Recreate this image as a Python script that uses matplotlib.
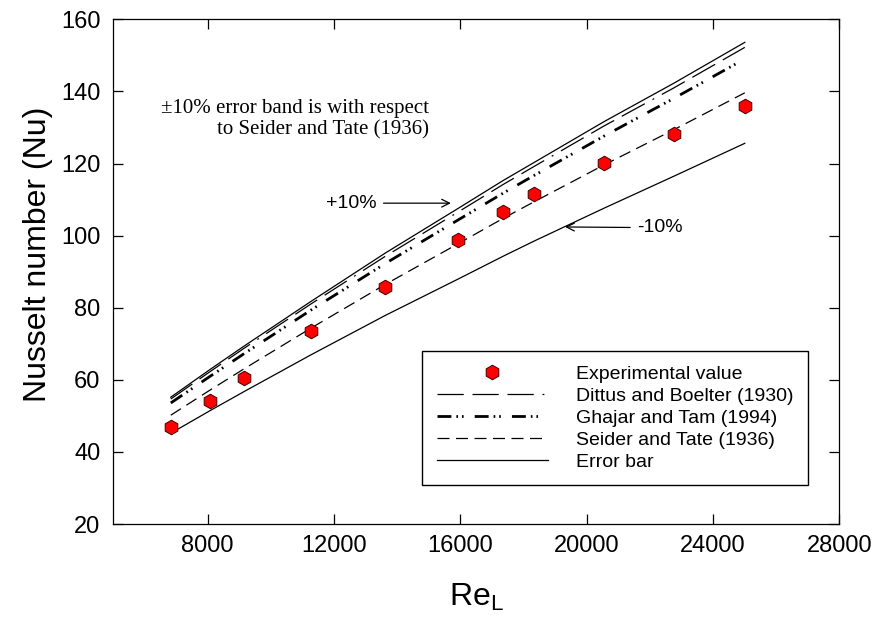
import numpy as np
import matplotlib
matplotlib.use("Agg")
import matplotlib.pyplot as plt

plt.rcParams['font.family'] = ['Liberation Sans', 'DejaVu Sans']
plt.rcParams['mathtext.default'] = 'regular'

# Reynolds numbers of the test runs
re_l = [6830, 8060, 9140, 11260, 13630, 15940, 17360, 18340, 20550, 22770, 25010]

# measured Nusselt numbers
nu_exp = [46.8, 54.2, 60.6, 73.5, 85.8, 98.8, 106.5, 111.6, 120.1, 128.1, 135.9]

# correlations evaluated at the same Re
nu_dittus = [54.7, 62.2, 68.7, 81.0, 94.3, 106.6, 114.2, 119.2, 130.4, 141.0, 152.2]
nu_ghajar = [53.6, 60.9, 67.2, 79.3, 92.3, 104.4, 111.8, 116.7, 127.6, 138.1, 149.0]
nu_seider = [50.2, 57.1, 63.0, 74.3, 86.5, 97.8, 104.8, 109.4, 119.6, 129.4, 139.6]

# +/-10% band around Seider and Tate
nu_plus10 = [55.2, 62.8, 69.3, 81.7, 95.2, 107.6, 115.3, 120.3, 131.6, 142.3, 153.6]
nu_minus10 = [45.2, 51.4, 56.7, 66.9, 77.9, 88.0, 94.3, 98.5, 107.6, 116.5, 125.6]

fig = plt.figure(figsize=(8.76, 6.21), dpi=100)
ax = fig.add_axes([0.129, 0.156, 0.829, 0.813])

ax.plot(re_l, nu_exp, linestyle='none', marker='h', markersize=10.5,
        markerfacecolor='#ff0000', markeredgecolor='#400000', markeredgewidth=0.7,
        zorder=5, label='Experimental value')
ax.plot(re_l, nu_dittus, color='black', lw=0.9,
        linestyle=(0, (21, 7, 21, 7, 21, 7, 1.5, 7)), label='Dittus and Boelter (1930)')
ax.plot(re_l, nu_ghajar, color='black', lw=2.0,
        linestyle=(0, (5, 1.8, 0.6, 1.4, 0.6, 4)), label='Ghajar and Tam (1994)')
ax.plot(re_l, nu_seider, color='black', lw=0.9,
        linestyle=(0, (9.6, 5.2)), label='Seider and Tate (1936)')
ax.plot(re_l, nu_plus10, color='black', lw=0.9, label='Error bar')
ax.plot(re_l, nu_minus10, color='black', lw=0.9)

ax.set_xlim(5000, 28000)
ax.set_ylim(20, 160)
ax.set_xticks(np.arange(8000, 28001, 4000))
ax.set_yticks(np.arange(20, 161, 20))

for s in ax.spines.values():
    s.set_linewidth(0.9)
ax.tick_params(axis='both', direction='in', top=True, right=True,
               length=7, width=0.9, labelsize=17)
ax.tick_params(axis='x', pad=8)
ax.tick_params(axis='y', pad=9)

ax.set_ylabel('Nusselt number (Nu)', fontsize=23)
ax.yaxis.set_label_coords(-0.083, 0.535)
ax.set_xlabel(r'$\mathregular{Re_L}$', fontsize=23)
ax.xaxis.set_label_coords(0.5, -0.115)

# note on the error band
ax.text(15000, 132.3, '\u00b110% error band is with respect\nto Seider and Tate (1936)',
        family=['Liberation Serif', 'DejaVu Serif'], fontsize=15,
        ha='right', va='center', multialignment='right')

arrow = dict(arrowstyle='->', color='black', lw=0.9, shrinkA=3, shrinkB=0)
ax.annotate('+10%', xy=(15700, 109.0), xytext=(13350, 109.0), fontsize=14,
            ha='right', va='center', arrowprops=arrow)
ax.annotate('-10%', xy=(19320, 102.4), xytext=(21600, 102.2), fontsize=14,
            ha='left', va='center', arrowprops=arrow)

leg = ax.legend(loc='upper right', bbox_to_anchor=(0.957, 0.343), borderaxespad=0,
                fontsize=14, numpoints=1, handlelength=5.7, handletextpad=1.45,
                borderpad=0.75, labelspacing=0.22, fancybox=False, framealpha=1,
                edgecolor='black')
leg.get_frame().set_linewidth(1.0)

fig.savefig('out.png', dpi=100)
